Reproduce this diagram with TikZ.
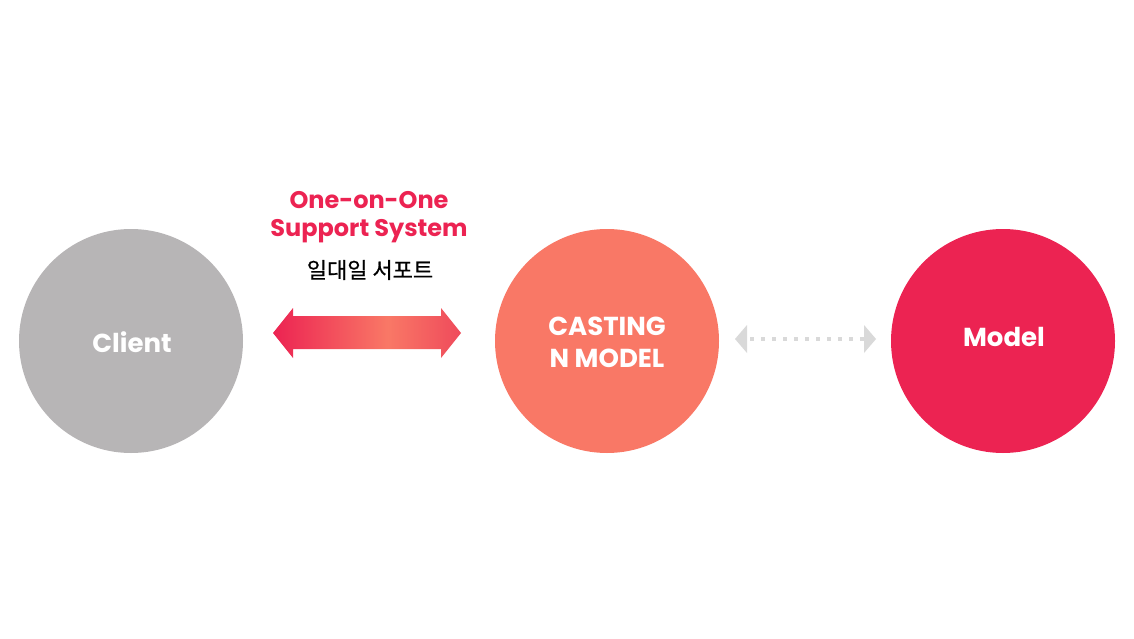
\documentclass[tikz,border=0pt]{standalone}
\usepackage{fontspec}
\setmainfont{Poppins}
\newfontfamily\cjk[FakeBold=0.6]{Noto Sans CJK KR}
\usetikzlibrary{arrows.meta}
\definecolor{cgrey}{HTML}{B7B5B6}
\definecolor{csalmon}{HTML}{F97866}
\definecolor{ccrimson}{HTML}{EC2352}
\definecolor{cright}{HTML}{EF4A5B}
\definecolor{cdot}{HTML}{D9D9D9}
\pgfdeclarehorizontalshading{arrowgrad}{100bp}{color(0bp)=(ccrimson); color(25bp)=(ccrimson); color(55.5bp)=(csalmon); color(75bp)=(cright); color(100bp)=(cright)}
\tikzset{
  bubble/.style={circle, minimum size=224pt, inner sep=0pt},
  bublabel/.style={text=white, font=\fontsize{26}{32}\selectfont\bfseries, align=center},
  title/.style={text=ccrimson, font=\fontsize{24}{30}\selectfont\bfseries, align=center},
  dothead/.style={fill=cdot, draw=none},
}
\begin{document}
\begin{tikzpicture}[x=1pt, y=-1pt]
\useasboundingbox (0,0) rectangle (1134,639);
\fill[white] (0,0) rectangle (1134,639);
\node[bubble, fill=cgrey] (client) at (131,341) {};
\node[bubble, fill=csalmon] (casting) at (607,341) {};
\node[bubble, fill=ccrimson] (model) at (1003,341) {};
\node[bublabel] (clientlbl) at (132,342) {Client};
\node[bublabel] (castlbl) at (607,342) {CASTING\\N MODEL};
\node[bublabel] (modellbl) at (1004,337) {Model};
\node[title] (t1) at (369,200) {One-on-One};
\node[title] (t2) at (369,231) {Support System};
\node[font=\cjk\fontsize{22}{26}\selectfont] (t3) at (370,270) {일대일 서포트};
% gradient double arrow
\coordinate (al) at (273,333);
\coordinate (ar) at (461,333);
\shade[shading=arrowgrad] (al) -- ++(20,-25) -- ++(0,8) -- ++(148,0) -- ++(0,-8) -- (ar) -- ++(-20,25) -- ++(0,-9) -- ++(-148,0) -- ++(0,9) -- cycle;
% dotted arrow
\coordinate (dl) at (735,339);
\coordinate (dr) at (876,339);
\fill[dothead] (dl) -- ++(12,-14) -- ++(0,28) -- cycle;
\fill[dothead] (dr) -- ++(-12,-14) -- ++(0,28) -- cycle;
\draw[cdot, line width=4pt, dash pattern=on 4pt off 7pt] ([xshift=15pt]dl) -- ([xshift=-12pt]dr);
\end{tikzpicture}
\end{document}
